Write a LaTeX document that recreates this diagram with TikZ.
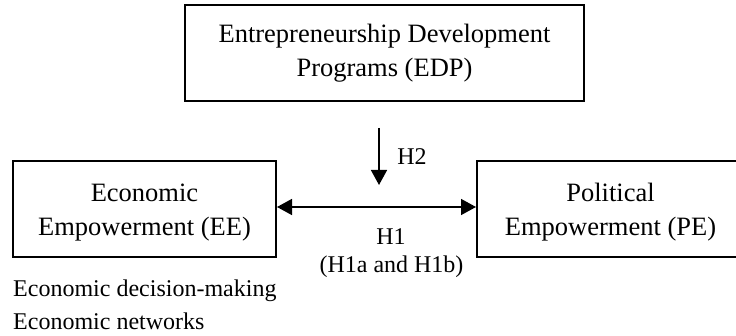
\documentclass[tikz,border=0pt]{standalone}
\usepackage{fontspec}
\setmainfont{Liberation Serif}
\usetikzlibrary{arrows.meta}
\tikzset{
  box/.style={draw, line width=2pt, align=center, inner sep=0pt,
    font=\fontsize{26.5}{34}\selectfont},
  lbl/.style={inner sep=0pt, font=\fontsize{24}{30}\selectfont},
  conn/.style={line width=1.5pt, -{Triangle[length=15pt,width=16pt]}},
  biconn/.style={line width=1.5pt, {Triangle[length=15pt,width=16pt]}-{Triangle[length=15pt,width=16pt]}}
}
\begin{document}
\begin{tikzpicture}[x=1pt,y=-1pt]
\useasboundingbox (0,0) rectangle (736,336);
\clip (0,0) rectangle (736,336);
\node[box, minimum width=399pt, minimum height=95.6pt] (edp) at (384.5,53) {Entrepreneurship Development\\Programs (EDP)};
\node[box, minimum width=263pt, minimum height=96pt] (ee) at (144.5,209) {\rule{0pt}{24.5pt}Economic\\Empowerment (EE)};
\node[box, minimum width=267pt, minimum height=96pt] (pe) at (610.5,209) {\rule{0pt}{24.5pt}Political\\Empowerment (PE)};
\draw[biconn] (ee.east |- 0,207) coordinate (a1) -- (pe.west |- 0,207) coordinate (a2);
\coordinate (h2s) at (379,128);
\coordinate (h2e) at (379,185);
\draw[conn] (h2s) -- (h2e);
\node[lbl, anchor=base] (h2) at (412,165) {H2};
\node[lbl, anchor=base] (h1) at (391,245) {H1};
\node[lbl, anchor=base] (h1ab) at (391.5,273) {(H1a and H1b)};
\node[lbl, anchor=base west] (t1) at (13,297) {Economic decision-making};
\node[lbl, anchor=base west] (t2) at (13,330) {Economic networks};
\end{tikzpicture}
\end{document}
